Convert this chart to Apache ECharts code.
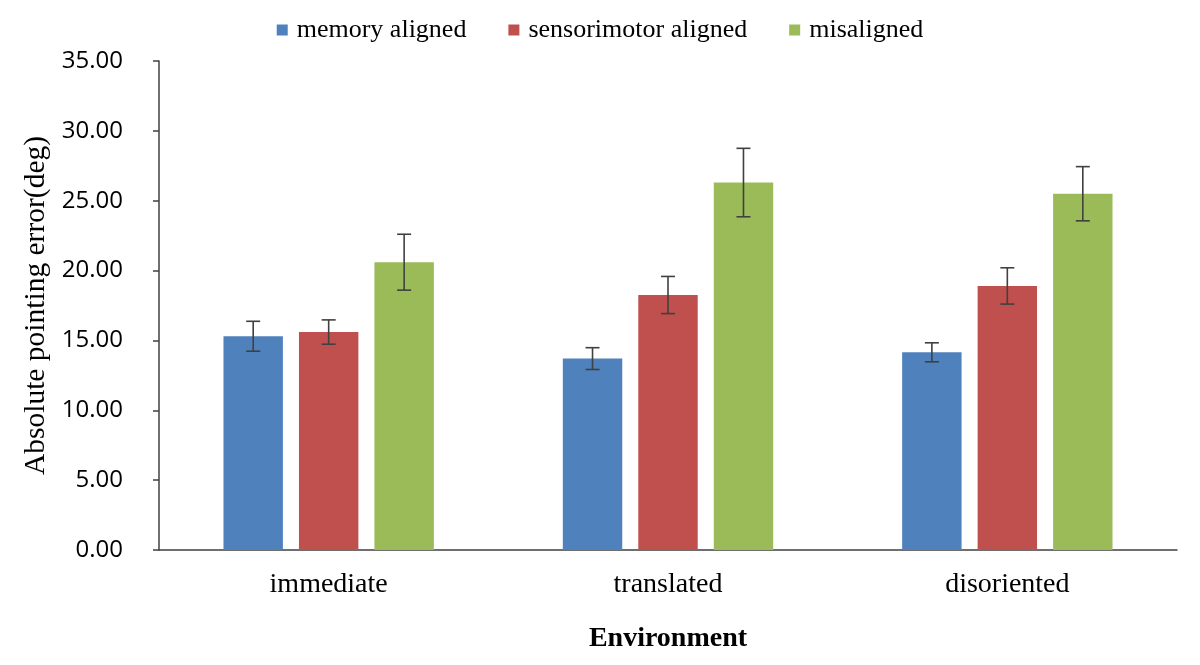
<!DOCTYPE html>
<html>
<head>
<meta charset="utf-8">
<script src="https://cdn.jsdelivr.net/npm/echarts@6/dist/echarts.min.js"></script>
<style>
  html, body { margin: 0; padding: 0; background: #fff; }
  #chart { width: 1200px; height: 665px; }
</style>
</head>
<body>
<div id="chart"></div>
<script>
// data
var categories = ['immediate', 'translated', 'disoriented'];
var seriesNames = ['memory aligned', 'sensorimotor aligned', 'misaligned'];
var memoryAligned = [15.3, 13.7, 14.15];
var sensorimotorAligned = [15.6, 18.25, 18.9];
var misaligned = [20.6, 26.3, 25.5];
// standard errors (half length of the error bars)
var memoryErr = [1.07, 0.78, 0.68];
var sensorimotorErr = [0.87, 1.33, 1.3];
var misalignedErr = [2.0, 2.45, 1.94];
var colors = ['#4F81BD', '#C0504D', '#9BBB59'];

var means = [memoryAligned, sensorimotorAligned, misaligned];
var errs = [memoryErr, sensorimotorErr, misalignedErr];

var catGap = 0.38, barGap = 0.27;

var chart = echarts.init(document.getElementById('chart'));

var series = [];
seriesNames.forEach(function (name, s) {
    series.push({
        name: name,
        type: 'bar',
        data: means[s],
        barGap: (barGap * 100) + '%',
        barCategoryGap: (catGap * 100) + '%',
        itemStyle: { color: colors[s] }
    });
});

// error bars, one custom series per group member
seriesNames.forEach(function (name, s) {
    var errData = means[s].map(function (v, i) {
        return [i, v - errs[s][i], v + errs[s][i]];
    });
    series.push({
        type: 'custom',
        name: name + ' err',
        z: 10,
        silent: true,
        data: errData,
        renderItem: function (params, api) {
            var c = api.value(0);
            var catW = api.size([1, 0])[0];
            var bw = catW * (1 - catGap) / (3 + 2 * barGap);
            var x = api.coord([c, 0])[0] + (s - 1) * bw * (1 + barGap);
            var yLow = api.coord([c, api.value(1)])[1];
            var yHigh = api.coord([c, api.value(2)])[1];
            var cap = 7;
            var st = { stroke: '#404040', lineWidth: 1.6 };
            return {
                type: 'group',
                children: [
                    { type: 'line', shape: { x1: x, y1: yLow, x2: x, y2: yHigh }, style: st },
                    { type: 'line', shape: { x1: x - cap, y1: yHigh, x2: x + cap, y2: yHigh }, style: st },
                    { type: 'line', shape: { x1: x - cap, y1: yLow, x2: x + cap, y2: yLow }, style: st }
                ]
            };
        }
    });
});

var option = {
    animation: false,
    backgroundColor: '#fff',
    legend: {
        data: seriesNames,
        top: 12,
        left: 'center',
        itemWidth: 11,
        itemHeight: 11,
        itemGap: 42,
        icon: 'rect',
        textStyle: {
            fontFamily: 'Liberation Serif',
            fontSize: 26,
            color: '#000',
            padding: [0, 0, 0, 4]
        }
    },
    grid: {
        left: 159,
        right: 23,
        top: 61,
        bottom: 115
    },
    xAxis: {
        type: 'category',
        data: categories,
        name: 'Environment',
        nameLocation: 'middle',
        nameGap: 75,
        nameTextStyle: {
            fontFamily: 'Liberation Serif',
            fontWeight: 'bold',
            fontSize: 28,
            color: '#000'
        },
        axisLine: { lineStyle: { color: '#404040', width: 1.5 } },
        axisTick: { show: false },
        axisLabel: {
            margin: 21,
            fontFamily: 'Liberation Serif',
            fontSize: 28,
            color: '#000'
        }
    },
    yAxis: {
        type: 'value',
        min: 0,
        max: 35,
        interval: 5,
        name: 'Absolute pointing error(deg)',
        nameLocation: 'middle',
        nameGap: 106,
        nameTextStyle: {
            fontFamily: 'Liberation Serif',
            fontSize: 29.5,
            color: '#000'
        },
        splitLine: { show: false },
        axisLine: { show: true, lineStyle: { color: '#404040', width: 1.5 } },
        axisTick: { show: true, length: 6, lineStyle: { color: '#404040', width: 1.5 } },
        axisLabel: {
            margin: 36,
            fontFamily: 'Open Sans',
            fontSize: 24,
            color: '#000',
            formatter: function (v) { return v.toFixed(2); }
        }
    },
    series: series
};

chart.setOption(option);
</script>
</body>
</html>
